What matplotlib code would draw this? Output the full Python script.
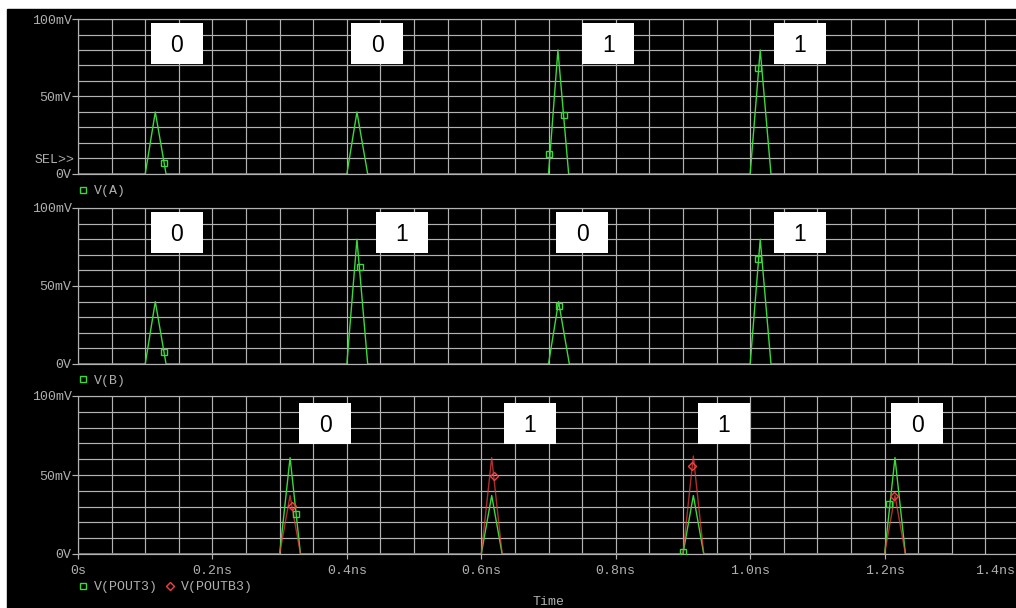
import numpy as np
import matplotlib
matplotlib.use('Agg')
import matplotlib.pyplot as plt
import matplotlib.patches as mpatches
from matplotlib.lines import Line2D
from matplotlib.transforms import blended_transform_factory, ScaledTranslation

# --- trace data (time in ns, voltage in mV) ---
va_t = [0.0, 0.100, 0.115, 0.131, 0.400, 0.415, 0.431,
        0.700, 0.714, 0.730, 1.000, 1.015, 1.031, 1.300]
va_v = [0, 0, 40, 0, 0, 40, 0, 0, 80, 0, 0, 80, 0, 0]

vb_t = [0.0, 0.100, 0.115, 0.131, 0.400, 0.415, 0.431,
        0.700, 0.715, 0.731, 1.000, 1.015, 1.031, 1.300]
vb_v = [0, 0, 40, 0, 0, 80, 0, 0, 40, 0, 0, 80, 0, 0]

pout_t = [0.0, 0.300, 0.3155, 0.331, 0.600, 0.6155, 0.631,
          0.900, 0.9155, 0.931, 1.200, 1.2155, 1.231, 1.300]
pout_v = [0, 0, 61, 0, 0, 37, 0, 0, 37, 0, 0, 61, 0, 0]
poutb_v = [0, 0, 37, 0, 0, 61, 0, 0, 62, 0, 0, 37, 0, 0]

# symbol markers as they sit on the traces
va_mk_t = [0.128, 0.701, 0.723, 1.011]
va_mk_v = [7.3, 12.7, 37.9, 68.2]
vb_mk_t = [0.128, 0.420, 0.716, 1.011]
vb_mk_v = [7.5, 62, 37, 67.5]
pout_mk_t = [0.325, 0.900, 1.207]
pout_mk_v = [25.1, 1.0, 31.6]
poutb_mk_t = [0.319, 0.6195, 0.913, 1.214]
poutb_mk_v = [30.4, 49.4, 55.9, 36.7]

# logic values written in the white boxes
bits_a = ['0', '0', '1', '1']
bits_b = ['0', '1', '0', '1']
bits_c = ['0', '1', '1', '0']

x_ticks = [0, 0.2, 0.4, 0.6, 0.8, 1.0, 1.2, 1.4]
x_labels = ['0s', '0.2ns', '0.4ns', '0.6ns', '0.8ns', '1.0ns', '1.2ns', '1.4ns']
y_ticks = [0, 50, 100]
y_labels = ['0V', '50mV', '100mV']

# --- layout / style ---
W, H = 1016, 608
GREEN = '#3cd83c'
RED = '#f04040'
GRID = '#b2b2b2'
TXT = '#b0b0b0'
FS = 9.5
box_x_a = [0.147, 0.445, 0.789, 1.074]
box_x_b = [0.147, 0.482, 0.750, 1.074]
box_x_c = [0.3676, 0.6726, 0.9606, 1.2485]

plt.rcParams['font.family'] = ['Liberation Mono', 'DejaVu Sans Mono']

fig = plt.figure(figsize=(W / 100, H / 100), dpi=100)
fig.patch.set_facecolor('white')
fig.add_artist(mpatches.Rectangle((7 / W, 0), 1, 1 - 9 / H,
                                  transform=fig.transFigure,
                                  color='black', zorder=-10))


def make_axes(top_px, bot_px):
    left = 78 / W
    width = (1019 - 78) / W
    ax = fig.add_axes([left, 1 - bot_px / H, width, (bot_px - top_px) / H])
    ax.set_facecolor('black')
    ax.set_xlim(0, 1.4)
    ax.set_ylim(0, 100)
    ax.set_xticks(x_ticks)
    ax.set_xticks(np.arange(0, 1.41, 0.05), minor=True)
    ax.set_yticks(y_ticks)
    ax.set_yticklabels(y_labels)
    ax.set_yticks(np.arange(0, 101, 10), minor=True)
    ax.grid(which='both', color=GRID, lw=0.85)
    ax.set_axisbelow(True)
    ax.spines['right'].set_visible(False)
    for s in ['left', 'top', 'bottom']:
        ax.spines[s].set_color(GRID)
        ax.spines[s].set_linewidth(0.85)
    ax.tick_params(which='minor', length=0)
    ax.tick_params(axis='y', which='major', length=4.3, width=0.85,
                   color=GRID, pad=0.3, labelcolor=TXT, labelsize=FS)
    return ax


def add_boxes(ax, xs, bits, y0, y1):
    for x, b in zip(xs, bits):
        ax.add_patch(mpatches.Rectangle((x - 0.0387, y0), 0.0774, y1 - y0,
                                        facecolor='white', edgecolor='none',
                                        zorder=5))
        ax.text(x, (y0 + y1) / 2 - 1.5, b, ha='center', va='center',
                fontsize=16.5, family='Liberation Sans', color='black',
                zorder=6)


def add_legend(ax, handles, labels, ypos):
    ax.legend(handles, labels, loc='center left', bbox_to_anchor=(0.0015, ypos),
              frameon=False, handlelength=0.5, handletextpad=0.6,
              columnspacing=0.66, borderpad=0, borderaxespad=0,
              fontsize=FS, labelcolor=TXT, ncol=2)


sq = dict(marker='s', ls='none', mfc='none', ms=4.6, mew=1.0)
dm = dict(marker='D', ls='none', mfc='none', ms=4.0, mew=1.0)

# panel A
ax1 = make_axes(19, 174)
ax1.tick_params(axis='x', which='major', length=0, labelbottom=False)
ax1.plot(va_t, va_v, color=GREEN, lw=1.0, zorder=3)
ax1.plot(va_mk_t, va_mk_v, mec=GREEN, zorder=4, **sq)
add_boxes(ax1, box_x_a, bits_a, 71.2, 97.4)
ax1.text(-0.0032, 9, 'SEL>>', ha='right', va='center', color=TXT, fontsize=FS,
         transform=blended_transform_factory(ax1.transAxes, ax1.transData))
add_legend(ax1, [Line2D([], [], mec=GREEN, **sq)], ['V(A)'], -0.11)

# panel B
ax2 = make_axes(208, 364)
ax2.tick_params(axis='x', which='major', length=0, labelbottom=False)
ax2.plot(vb_t, vb_v, color=GREEN, lw=1.0, zorder=3)
ax2.plot(vb_mk_t, vb_mk_v, mec=GREEN, zorder=4, **sq)
add_boxes(ax2, box_x_b, bits_b, 71.3, 97.2)
add_legend(ax2, [Line2D([], [], mec=GREEN, **sq)], ['V(B)'], -0.107)

# panel C
ax3 = make_axes(396, 554)
ax3.set_xticklabels(x_labels)
ax3.tick_params(axis='x', which='major', length=3.6, width=0.85, color=GRID,
                pad=4, labelcolor=TXT, labelsize=FS)
# last time label is pulled inside the window, like the simulator does
last = ax3.get_xticklabels()[-1]
last.set_horizontalalignment('right')
last.set_transform(last.get_transform() +
                   ScaledTranslation(-4 / 100, 0, fig.dpi_scale_trans))
ax3.plot(pout_t, pout_v, color=GREEN, lw=1.0, zorder=3)
ax3.plot(pout_t, poutb_v, color=RED, lw=1.0, alpha=0.72, zorder=3)
ax3.plot(pout_mk_t, pout_mk_v, mec=GREEN, zorder=4, **sq)
ax3.plot(poutb_mk_t, poutb_mk_v, mec=RED, zorder=4, **dm)
add_boxes(ax3, box_x_c, bits_c, 69.8, 95.6)
add_legend(ax3, [Line2D([], [], mec=GREEN, **sq), Line2D([], [], mec=RED, **dm)],
           ['V(POUT3)', 'V(POUTB3)'], -0.211)
ax3.text(0.5, -(602 - 554) / 158, 'Time', ha='center', va='center',
         color=TXT, fontsize=FS, transform=ax3.transAxes)

fig.savefig('out.png', dpi=100, facecolor=fig.get_facecolor())
